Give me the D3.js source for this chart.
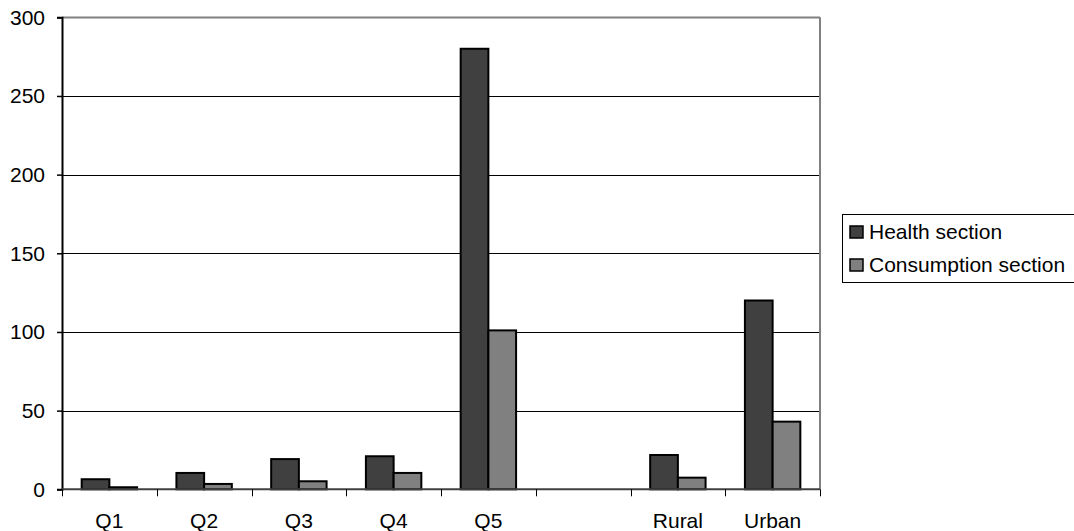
<!DOCTYPE html>
<html>
<head>
<meta charset="utf-8">
<script src="https://cdn.jsdelivr.net/npm/d3@7"></script>
<style>
  html, body { margin: 0; padding: 0; background: #fff; }
  svg { display: block; font-family: "Liberation Sans", Arial, sans-serif; }
</style>
</head>
<body>
<svg id="chart" width="1074" height="531"></svg>
<script>
// Categories along the x axis (one empty slot separates quintiles from area)
const categories = ["Q1", "Q2", "Q3", "Q4", "Q5", "", "Rural", "Urban"];
const seriesNames = ["Health section", "Consumption section"];
const healthValues = [6.4, 10.4, 19.2, 21, 280, null, 21.8, 120];
const consumptionValues = [1.3, 3.4, 5.1, 10.4, 101, null, 7.4, 43];
const yTicks = [0, 50, 100, 150, 200, 250, 300];
const seriesColors = ["#404040", "#808080"];

const fontSize = 21;
const svg = d3.select("#chart");
const plot = { left: 62, right: 820, top: 17.3, bottom: 489.3 };

const x = d3.scaleBand().domain(d3.range(categories.length))
  .range([plot.left, plot.right]).paddingInner(0).paddingOuter(0);
const x1 = d3.scaleBand().domain([0, 1]).range([0, x.bandwidth()])
  .paddingInner(0).paddingOuter(0.71);
const y = d3.scaleLinear().domain([0, 300]).range([plot.bottom, plot.top]);

// Gridlines
svg.append("g").selectAll("line").data(yTicks.filter(d => d > 0 && d < 300)).join("line")
  .attr("x1", plot.left).attr("x2", plot.right)
  .attr("y1", d => Math.round(y(d)) + 0.5).attr("y2", d => Math.round(y(d)) + 0.5)
  .attr("stroke", "#000").attr("stroke-width", 1);

// Plot frame (top and right in gray)
svg.append("line").attr("x1", plot.left).attr("x2", plot.right)
  .attr("y1", 17.5).attr("y2", 17.5).attr("stroke", "#808080").attr("stroke-width", 2);
svg.append("line").attr("x1", plot.right).attr("x2", plot.right)
  .attr("y1", plot.top).attr("y2", plot.bottom).attr("stroke", "#808080").attr("stroke-width", 2);

// Bars
const data = categories.map((c, i) => ({ i, vals: [healthValues[i], consumptionValues[i]] }));
const groups = svg.append("g").selectAll("g").data(data).join("g")
  .attr("transform", d => `translate(${x(d.i)},0)`);
groups.selectAll("rect")
  .data(d => d.vals.map((v, k) => ({ v, k })).filter(e => e.v != null))
  .join("rect")
  .attr("x", e => x1(e.k))
  .attr("width", x1.bandwidth())
  .attr("y", e => y(e.v))
  .attr("height", e => y(0) - y(e.v))
  .attr("fill", e => seriesColors[e.k])
  .attr("stroke", "#000").attr("stroke-width", 2);

// Y axis
const yAxis = d3.axisLeft(y).tickValues(yTicks).tickSize(5).tickPadding(12);
const gy = svg.append("g").attr("transform", `translate(${plot.left},0)`).call(yAxis);
gy.attr("font-size", fontSize).attr("font-family", "Liberation Sans, Arial, sans-serif");
gy.select(".domain").attr("stroke", "#000").attr("stroke-width", 2);
gy.selectAll(".tick line").attr("stroke", "#000").attr("stroke-width", 1.5);
gy.selectAll("text").attr("fill", "#000");

// X axis: ticks between categories
const xTickPos = d3.range(categories.length + 1).map(i => plot.left + i * x.bandwidth());
svg.append("line").attr("x1", plot.left).attr("x2", plot.right)
  .attr("y1", plot.bottom).attr("y2", plot.bottom)
  .attr("stroke", "#404040").attr("stroke-width", 2);
svg.append("g").selectAll("line").data(xTickPos).join("line")
  .attr("x1", d => Math.round(d) + 0.5).attr("x2", d => Math.round(d) + 0.5)
  .attr("y1", plot.bottom).attr("y2", plot.bottom + 7)
  .attr("stroke", "#000").attr("stroke-width", 1);
svg.append("g").selectAll("text").data(categories).join("text")
  .attr("x", (d, i) => x(i) + x.bandwidth() / 2)
  .attr("y", 528)
  .attr("text-anchor", "middle")
  .attr("font-size", fontSize).attr("fill", "#000")
  .text(d => d);

// Legend
const legend = svg.append("g");
legend.append("rect").attr("x", 842.5).attr("y", 214.5).attr("width", 240).attr("height", 68)
  .attr("fill", "#fff").attr("stroke", "#000").attr("stroke-width", 1);
seriesNames.forEach((name, k) => {
  const cy = 232 + k * 33;
  legend.append("rect").attr("x", 850).attr("y", cy - 6).attr("width", 13).attr("height", 12)
    .attr("fill", seriesColors[k]).attr("stroke", "#000").attr("stroke-width", 1.5);
  legend.append("text").attr("x", 869).attr("y", cy + 7)
    .attr("font-size", fontSize).attr("fill", "#000").text(name);
});
</script>
</body>
</html>
